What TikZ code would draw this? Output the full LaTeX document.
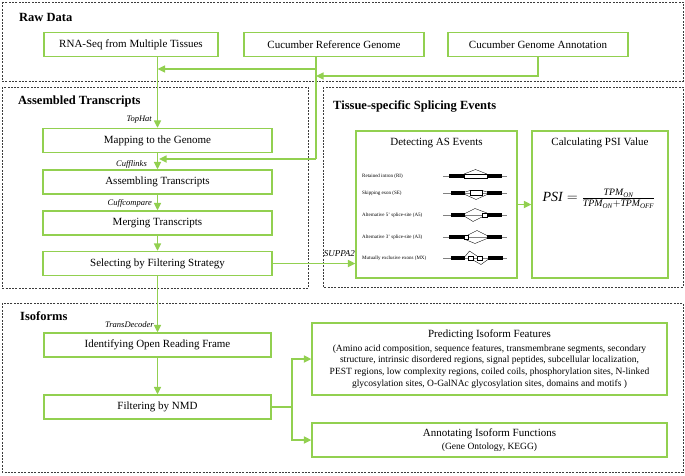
\documentclass[tikz,border=0pt]{standalone}
\usepackage{amsmath}
\usepackage{fontspec}
\setmainfont{Liberation Serif}
\usetikzlibrary{arrows.meta}
\definecolor{grn}{RGB}{146,208,80}
\definecolor{frm}{RGB}{60,60,60}
\begin{document}
\begin{tikzpicture}[x=1pt,y=-1pt,
  frame/.style={draw=frm, line width=0.8pt, dash pattern=on 2pt off 1.3pt},
  box/.style={draw=grn, line width=1.3pt, inner sep=0pt, font=\fontsize{11}{13}\selectfont},
  conn/.style={draw=grn, line width=1.6pt},
  arr/.style={conn, -{Triangle[length=7.5pt,width=7pt]}},
  ttl/.style={font=\bfseries\fontsize{12.5}{14}\selectfont, anchor=west, inner sep=0pt},
  tool/.style={font=\itshape\fontsize{8.5}{10}\selectfont, anchor=east, inner sep=0pt},
  txt/.style={font=\fontsize{11}{13}\selectfont, inner sep=0pt},
  sml/.style={font=\fontsize{9.5}{11.7}\selectfont, inner sep=0pt, align=center},
  asl/.style={font=\fontsize{5}{6}\selectfont, anchor=west, inner sep=0pt},
  exon/.style={fill=black},
  alt/.style={draw=black, fill=white, line width=0.35pt},
  jn/.style={draw=black, line width=0.35pt},
  base/.style={draw=gray, line width=0.3pt}]

\useasboundingbox (0,0) rectangle (685,475);
\fill[white] (0,0) rectangle (685,475);

% frames
\draw[frame] (2,2) rectangle (683,81);
\draw[frame] (2,87) rectangle (308,288);
\draw[frame] (323,87) rectangle (683,287);
\draw[frame] (2,303) rectangle (683,472);

% titles
\node[ttl] (tRaw) at (19,17) {Raw Data};
\node[ttl] (tAsm) at (18,101) {Assembled Transcripts};
\node[ttl] (tTis) at (333,106) {Tissue-specific Splicing Events};
\node[ttl] (tIso) at (20,316) {Isoforms};

% raw data boxes
\node[box, minimum width=174pt, minimum height=24pt] (rna) at (131,44.5) {RNA-Seq from Multiple Tissues};
\node[box, minimum width=180pt, minimum height=24pt] (ref) at (334,44.5) {Cucumber Reference Genome};
\node[box, minimum width=180pt, minimum height=24pt] (ann) at (538,44.5) {Cucumber Genome Annotation};

% assembled transcripts
\node[box, minimum width=229pt, minimum height=24pt] (map) at (157.5,140.5) {Mapping to the Genome};
\node[box, minimum width=229pt, minimum height=24pt] (asm) at (157.5,182) {Assembling Transcripts};
\node[box, minimum width=229pt, minimum height=24pt] (mrg) at (157.5,223) {Merging Transcripts};
\node[box, minimum width=229pt, minimum height=24pt] (sel) at (157.5,263.5) {Selecting by Filtering Strategy};

% tissue-specific
\node[box, minimum width=161pt, minimum height=147pt] (det) at (436.5,204.5) {};
\node[box, minimum width=136pt, minimum height=147pt] (psi) at (600,204.5) {};
\node[txt] (detT) at (436.5,143) {Detecting AS Events};
\node[txt] (psiT) at (600,143) {Calculating PSI Value};
\node[inner sep=0pt] (fml) at (599,199) {\fontsize{14}{16}\selectfont $\textit{PSI}=\frac{\textit{TPM}_{\textit{ON}}}{\textit{TPM}_{\textit{ON}}+\textit{TPM}_{\textit{OFF}}}$};

% AS event labels
\node[asl] (lRI) at (362,176) {Retained intron (RI)};
\node[asl] (lSE) at (362,193) {Skipping exon (SE)};
\node[asl] (lA5) at (362,215) {Alternative 5' splice-site (A5)};
\node[asl] (lA3) at (362,237) {Alternative 3' splice-site (A3)};
\node[asl] (lMX) at (362,258) {Mutually exclusive exons (MX)};

% RI
\begin{scope}[shift={(0,176)}]
  \draw[base] (443,0) -- (507,0);
  \fill[exon] (449,-2) rectangle (464,2);
  \draw[alt] (464,-2) rectangle (487,2);
  \fill[exon] (487,-2) rectangle (502,2);
  \draw[jn] (464,-2) -- (475.5,-6.5) -- (487,-2);
\end{scope}
% SE
\begin{scope}[shift={(0,193)}]
  \draw[base] (443,0) -- (507,0);
  \fill[exon] (451,-2) rectangle (465,2);
  \draw[alt] (470,-2.5) rectangle (482,2.5);
  \fill[exon] (487,-2) rectangle (502,2);
  \draw[jn] (465,-1) -- (470,-2.5);
  \draw[jn] (482,-2.5) -- (487,-1);
  \draw[jn] (465,1.5) -- (476,6.5) -- (487,1.5);
\end{scope}
% A5
\begin{scope}[shift={(0,215)}]
  \draw[base] (443,0) -- (507,0);
  \fill[exon] (451,-2) rectangle (465,2);
  \draw[alt] (482,-2) rectangle (487,2);
  \fill[exon] (487,-2) rectangle (502,2);
  \draw[jn] (465,-1.5) -- (475,-6.5) -- (487,-2);
  \draw[jn] (465,1.5) -- (473,6.5) -- (482,2);
\end{scope}
% A3
\begin{scope}[shift={(0,237)}]
  \draw[base] (443,0) -- (507,0);
  \fill[exon] (449,-2) rectangle (464,2);
  \draw[alt] (464,-2) rectangle (468,2);
  \fill[exon] (487,-2) rectangle (502,2);
  \draw[jn] (468,-2) -- (477,-6.5) -- (487,-1.5);
  \draw[jn] (464,2) -- (475,6.5) -- (487,1.5);
\end{scope}
% MX
\begin{scope}[shift={(0,258)}]
  \draw[base] (443,0) -- (507,0);
  \fill[exon] (451,-2) rectangle (465,2);
  \draw[alt] (468,-2) rectangle (473,2);
  \draw[alt] (477,-2) rectangle (482,2);
  \fill[exon] (488,-2) rectangle (503,2);
  \draw[jn] (465,-1.5) -- (469.5,-7) -- (477,-2);
  \draw[jn] (473,2) -- (481,6.5) -- (488,1.5);
\end{scope}

% isoforms
\node[box, minimum width=227pt, minimum height=24pt] (orf) at (157.5,345) {Identifying Open Reading Frame};
\node[box, minimum width=227pt, minimum height=24pt] (nmd) at (157.5,407) {Filtering by NMD};
\node[box, minimum width=355pt, minimum height=72pt] (pred) at (489.5,359) {};
\node[box, minimum width=355pt, minimum height=34pt] (annf) at (489.5,440) {};
\node[txt] (predT) at (489.5,335) {Predicting Isoform Features};
\node[sml] (predD) at (489.5,366.5) {(Amino acid composition, sequence features, transmembrane segments, secondary\\
structure, intrinsic disordered regions, signal peptides, subcellular localization,\\
PEST regions, low complexity regions, coiled coils, phosphorylation sites, N-linked\\
glycosylation sites, O-GalNAc glycosylation sites, domains and motifs )};
\node[txt] (annfT) at (489.5,434) {Annotating Isoform Functions};
\node[sml] (annfD) at (489.5,447) {(Gene Ontology, KEGG)};

% tool labels
\node[tool] (lTop) at (152,120) {TopHat};
\node[tool] (lCl) at (147,164) {Cufflinks};
\node[tool] (lCc) at (152,203) {Cuffcompare};
\node[tool] (lTd) at (154,325) {TransDecoder};
\node[tool, font=\itshape\fontsize{9}{10}\selectfont] (lSu) at (355,254) {SUPPA2};

% connectors
\coordinate (rx) at (316,159);
\coordinate (rj) at (316,69);
\coordinate (aj) at (538,76);
\draw[arr] (rna.south -| map.north) -- (map.north);
\draw[conn] (ref.south -| rx) -- (rx);
\draw[arr] (rx) -- ([xshift=1.5pt]rx -| map.north);
\draw[arr] (rj) -- (rj -| map.north);
\draw[arr] (ann.south) -- (aj) -- (aj -| rx);
\draw[arr] (map.south) -- (asm.north);
\draw[arr] (asm.south) -- (mrg.north);
\draw[arr] (mrg.south) -- (sel.north);
\draw[arr] (sel.south) -- (orf.north);
\draw[arr] (sel.east) -- (sel.east -| det.west);
\draw[arr] (det.east) -- (psi.west);
\draw[arr] (orf.south) -- (nmd.north);
\coordinate (br) at (292,407);
\draw[conn] (nmd.east) -- (br);
\draw[arr] (br) |- (pred.west);
\draw[arr] (br) |- (annf.west);
\end{tikzpicture}
\end{document}
